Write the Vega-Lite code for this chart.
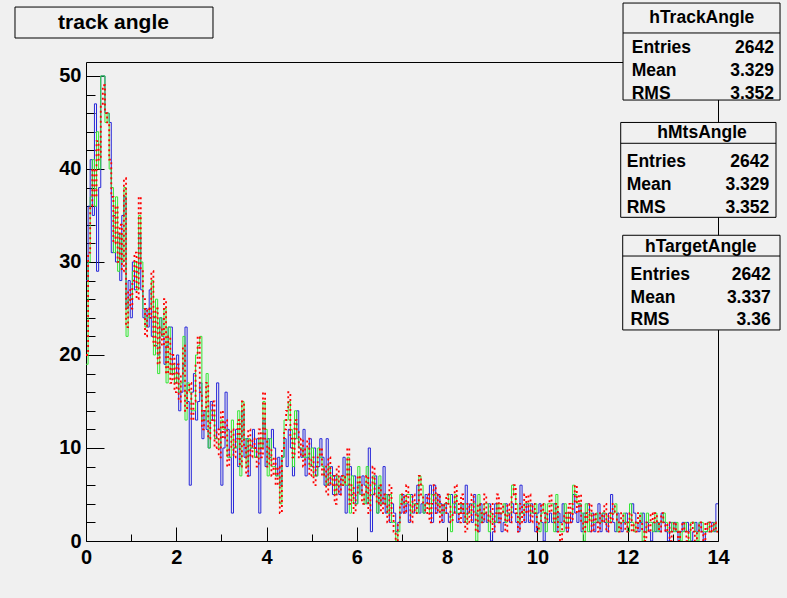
{
"$schema": "https://vega.github.io/schema/vega-lite/v6.json",
"width": 632, "height": 479,
"autosize": "none",
"padding": {"left": 86, "top": 62, "right": 69, "bottom": 57},
"background": "#f0f0f0",
"config": {"view": {"stroke": "#000000", "strokeWidth": 1, "fill": "#f0f0f0"}, "font": "Liberation Sans", "axis": {"labelOverlap": false, "labelBound": false, "labelFlush": false}},
"datasets": {
"one": [{}],
"h": [
{"x":0,"t":28,"m":19,"g":20},{"x":0.047,"t":36,"m":30,"g":31},{"x":0.093,"t":41,"m":37,"g":36},{"x":0.14,"t":35,"m":41,"g":40},{"x":0.187,"t":47,"m":36,"g":37},{"x":0.233,"t":29,"m":44,"g":43},{"x":0.28,"t":38,"m":40,"g":41},{"x":0.327,"t":50,"m":50,"g":47},{"x":0.373,"t":50,"m":50,"g":49},{"x":0.42,"t":46,"m":45,"g":46},
{"x":0.467,"t":46,"m":46,"g":45},{"x":0.513,"t":45,"m":40,"g":41},{"x":0.56,"t":31,"m":38,"g":37},{"x":0.607,"t":35,"m":31,"g":32},{"x":0.653,"t":30,"m":37,"g":36},{"x":0.7,"t":33,"m":29,"g":30},{"x":0.747,"t":28,"m":33,"g":34},{"x":0.793,"t":35,"m":30,"g":29},{"x":0.84,"t":37,"m":38,"g":39},{"x":0.887,"t":25,"m":22,"g":23},
{"x":0.933,"t":28,"m":26,"g":27},{"x":0.98,"t":24,"m":26,"g":25},{"x":1.027,"t":30,"m":29,"g":28},{"x":1.073,"t":27,"m":30,"g":31},{"x":1.12,"t":29,"m":27,"g":26},{"x":1.167,"t":33,"m":35,"g":37},{"x":1.213,"t":27,"m":30,"g":29},{"x":1.26,"t":24,"m":25,"g":26},{"x":1.307,"t":25,"m":23,"g":22},{"x":1.353,"t":23,"m":24,"g":25},
{"x":1.4,"t":27,"m":25,"g":24},{"x":1.447,"t":22,"m":28,"g":29},{"x":1.493,"t":24,"m":20,"g":21},{"x":1.54,"t":21,"m":26,"g":25},{"x":1.587,"t":20,"m":18,"g":19},{"x":1.633,"t":24,"m":24,"g":23},{"x":1.68,"t":22,"m":22,"g":21},{"x":1.727,"t":19,"m":25,"g":26},{"x":1.773,"t":21,"m":17,"g":18},{"x":1.82,"t":23,"m":23,"g":22},
{"x":1.867,"t":23,"m":18,"g":17},{"x":1.913,"t":18,"m":19,"g":20},{"x":1.96,"t":17,"m":17,"g":16},{"x":2.007,"t":20,"m":18,"g":19},{"x":2.053,"t":14,"m":16,"g":15},{"x":2.1,"t":16,"m":17,"g":18},{"x":2.147,"t":19,"m":22,"g":21},{"x":2.193,"t":23,"m":13,"g":14},{"x":2.24,"t":15,"m":17,"g":16},{"x":2.287,"t":6,"m":16,"g":17},
{"x":2.333,"t":16,"m":14,"g":13},{"x":2.38,"t":18,"m":14,"g":15},{"x":2.427,"t":13,"m":20,"g":19},{"x":2.473,"t":15,"m":21,"g":22},{"x":2.52,"t":17,"m":22,"g":16},{"x":2.567,"t":11,"m":13,"g":12},{"x":2.613,"t":14,"m":13,"g":14},{"x":2.66,"t":12,"m":18,"g":17},{"x":2.707,"t":10,"m":10,"g":11},{"x":2.753,"t":15,"m":14,"g":13},
{"x":2.8,"t":13,"m":14,"g":15},{"x":2.847,"t":11,"m":11,"g":10},{"x":2.893,"t":17,"m":11,"g":12},{"x":2.94,"t":12,"m":10,"g":9},{"x":2.987,"t":6,"m":13,"g":14},{"x":3.033,"t":10,"m":12,"g":11},{"x":3.08,"t":16,"m":12,"g":13},{"x":3.127,"t":12,"m":9,"g":8},{"x":3.173,"t":9,"m":9,"g":10},{"x":3.22,"t":3,"m":13,"g":12},
{"x":3.267,"t":10,"m":10,"g":9},{"x":3.313,"t":12,"m":10,"g":11},{"x":3.36,"t":8,"m":14,"g":13},{"x":3.407,"t":11,"m":7,"g":8},{"x":3.453,"t":14,"m":15,"g":15},{"x":3.5,"t":9,"m":11,"g":10},{"x":3.547,"t":11,"m":8,"g":7},{"x":3.593,"t":7,"m":11,"g":12},{"x":3.64,"t":10,"m":10,"g":9},{"x":3.687,"t":12,"m":10,"g":11},
{"x":3.733,"t":9,"m":9,"g":10},{"x":3.78,"t":11,"m":9,"g":8},{"x":3.827,"t":3,"m":11,"g":12},{"x":3.873,"t":10,"m":10,"g":9},{"x":3.92,"t":13,"m":15,"g":16},{"x":3.967,"t":8,"m":12,"g":11},{"x":4.013,"t":11,"m":7,"g":8},{"x":4.06,"t":9,"m":11,"g":10},{"x":4.107,"t":12,"m":8,"g":7},{"x":4.153,"t":10,"m":8,"g":9},
{"x":4.2,"t":7,"m":7,"g":6},{"x":4.247,"t":9,"m":7,"g":8},{"x":4.293,"t":6,"m":4,"g":3},{"x":4.34,"t":9,"m":9,"g":10},{"x":4.387,"t":11,"m":13,"g":12},{"x":4.433,"t":8,"m":13,"g":14},{"x":4.48,"t":12,"m":15,"g":16},{"x":4.527,"t":10,"m":12,"g":11},{"x":4.573,"t":7,"m":8,"g":9},{"x":4.62,"t":11,"m":14,"g":13},
{"x":4.667,"t":14,"m":11,"g":12},{"x":4.713,"t":10,"m":10,"g":9},{"x":4.76,"t":9,"m":10,"g":11},{"x":4.807,"t":12,"m":9,"g":8},{"x":4.853,"t":7,"m":9,"g":10},{"x":4.9,"t":9,"m":10,"g":11},{"x":4.947,"t":11,"m":8,"g":7},{"x":4.993,"t":8,"m":10,"g":9},{"x":5.04,"t":10,"m":7,"g":6},{"x":5.087,"t":7,"m":7,"g":8},
{"x":5.133,"t":8,"m":10,"g":9},{"x":5.18,"t":11,"m":9,"g":10},{"x":5.227,"t":9,"m":8,"g":7},{"x":5.273,"t":6,"m":7,"g":8},{"x":5.32,"t":11,"m":6,"g":5},{"x":5.367,"t":6,"m":8,"g":9},{"x":5.413,"t":8,"m":7,"g":6},{"x":5.46,"t":5,"m":6,"g":7},{"x":5.507,"t":7,"m":5,"g":4},{"x":5.553,"t":6,"m":7,"g":8},
{"x":5.6,"t":5,"m":6,"g":5},{"x":5.647,"t":7,"m":6,"g":7},{"x":5.693,"t":9,"m":7,"g":6},{"x":5.74,"t":3,"m":6,"g":7},{"x":5.787,"t":6,"m":9,"g":10},{"x":5.833,"t":8,"m":3,"g":4},{"x":5.88,"t":5,"m":7,"g":6},{"x":5.927,"t":7,"m":4,"g":3},{"x":5.973,"t":4,"m":4,"g":5},{"x":6.02,"t":6,"m":8,"g":7},
{"x":6.067,"t":5,"m":5,"g":6},{"x":6.113,"t":7,"m":5,"g":4},{"x":6.16,"t":6,"m":4,"g":5},{"x":6.207,"t":4,"m":8,"g":7},{"x":6.253,"t":10,"m":4,"g":3},{"x":6.3,"t":1,"m":5,"g":6},{"x":6.347,"t":5,"m":7,"g":8},{"x":6.393,"t":7,"m":6,"g":5},{"x":6.44,"t":3,"m":3,"g":4},{"x":6.487,"t":6,"m":7,"g":6},
{"x":6.533,"t":4,"m":4,"g":3},{"x":6.58,"t":8,"m":4,"g":5},{"x":6.627,"t":3,"m":5,"g":4},{"x":6.673,"t":5,"m":3,"g":2},{"x":6.72,"t":2,"m":5,"g":6},{"x":6.767,"t":4,"m":2,"g":3},{"x":6.813,"t":3,"m":2,"g":1},{"x":6.86,"t":1,"m":0,"g":0},{"x":6.907,"t":2,"m":1,"g":2},{"x":6.953,"t":3,"m":5,"g":4},
{"x":7,"t":5,"m":4,"g":5},{"x":7.047,"t":3,"m":4,"g":3},{"x":7.093,"t":4,"m":5,"g":6},{"x":7.14,"t":2,"m":5,"g":4},{"x":7.187,"t":5,"m":3,"g":2},{"x":7.233,"t":3,"m":4,"g":5},{"x":7.28,"t":4,"m":4,"g":3},{"x":7.327,"t":6,"m":3,"g":4},{"x":7.373,"t":3,"m":7,"g":7},{"x":7.42,"t":4,"m":6,"g":5},
{"x":7.467,"t":3,"m":3,"g":4},{"x":7.513,"t":5,"m":4,"g":3},{"x":7.56,"t":4,"m":4,"g":5},{"x":7.607,"t":6,"m":3,"g":2},{"x":7.653,"t":2,"m":5,"g":4},{"x":7.7,"t":6,"m":5,"g":6},{"x":7.747,"t":3,"m":4,"g":3},{"x":7.793,"t":5,"m":4,"g":5},{"x":7.84,"t":4,"m":3,"g":2},{"x":7.887,"t":2,"m":3,"g":4},
{"x":7.933,"t":4,"m":4,"g":3},{"x":7.98,"t":3,"m":4,"g":5},{"x":8.027,"t":2,"m":5,"g":4},{"x":8.073,"t":5,"m":1,"g":2},{"x":8.12,"t":3,"m":4,"g":3},{"x":8.167,"t":4,"m":5,"g":6},{"x":8.213,"t":2,"m":3,"g":4},{"x":8.26,"t":3,"m":3,"g":2},{"x":8.307,"t":4,"m":4,"g":5},{"x":8.353,"t":2,"m":4,"g":3},
{"x":8.4,"t":6,"m":2,"g":1},{"x":8.447,"t":3,"m":3,"g":4},{"x":8.493,"t":4,"m":3,"g":2},{"x":8.54,"t":2,"m":4,"g":5},{"x":8.587,"t":5,"m":4,"g":3},{"x":8.633,"t":3,"m":0,"g":1},{"x":8.68,"t":1,"m":5,"g":4},{"x":8.727,"t":4,"m":2,"g":3},{"x":8.773,"t":2,"m":3,"g":2},{"x":8.82,"t":3,"m":4,"g":5},
{"x":8.867,"t":2,"m":4,"g":3},{"x":8.913,"t":4,"m":1,"g":2},{"x":8.96,"t":0,"m":3,"g":4},{"x":9.007,"t":1,"m":2,"g":1},{"x":9.053,"t":4,"m":2,"g":3},{"x":9.1,"t":2,"m":4,"g":5},{"x":9.147,"t":3,"m":3,"g":2},{"x":9.193,"t":1,"m":3,"g":4},{"x":9.24,"t":2,"m":4,"g":3},{"x":9.287,"t":4,"m":2,"g":1},
{"x":9.333,"t":3,"m":3,"g":4},{"x":9.38,"t":2,"m":3,"g":2},{"x":9.427,"t":4,"m":6,"g":5},{"x":9.473,"t":3,"m":5,"g":6},{"x":9.52,"t":2,"m":4,"g":3},{"x":9.567,"t":1,"m":2,"g":1},{"x":9.613,"t":6,"m":3,"g":4},{"x":9.66,"t":3,"m":3,"g":2},{"x":9.707,"t":2,"m":4,"g":5},{"x":9.753,"t":4,"m":4,"g":3},
{"x":9.8,"t":2,"m":4,"g":5},{"x":9.847,"t":4,"m":3,"g":2},{"x":9.893,"t":3,"m":3,"g":4},{"x":9.94,"t":1,"m":4,"g":3},{"x":9.987,"t":3,"m":2,"g":1},{"x":10.033,"t":4,"m":1,"g":2},{"x":10.08,"t":2,"m":3,"g":4},{"x":10.127,"t":0,"m":4,"g":3},{"x":10.173,"t":3,"m":1,"g":2},{"x":10.22,"t":2,"m":4,"g":3},
{"x":10.267,"t":3,"m":4,"g":5},{"x":10.313,"t":2,"m":4,"g":3},{"x":10.36,"t":4,"m":1,"g":2},{"x":10.407,"t":1,"m":5,"g":4},{"x":10.453,"t":3,"m":2,"g":1},{"x":10.5,"t":2,"m":1,"g":0},{"x":10.547,"t":4,"m":1,"g":2},{"x":10.593,"t":2,"m":4,"g":3},{"x":10.64,"t":1,"m":2,"g":1},{"x":10.687,"t":3,"m":3,"g":4},
{"x":10.733,"t":2,"m":3,"g":2},{"x":10.78,"t":5,"m":6,"g":4},{"x":10.827,"t":3,"m":5,"g":6},{"x":10.873,"t":2,"m":4,"g":3},{"x":10.92,"t":4,"m":4,"g":5},{"x":10.967,"t":1,"m":3,"g":2},{"x":11.013,"t":3,"m":0,"g":1},{"x":11.06,"t":2,"m":4,"g":3},{"x":11.107,"t":4,"m":1,"g":2},{"x":11.153,"t":1,"m":3,"g":4},
{"x":11.2,"t":3,"m":2,"g":1},{"x":11.247,"t":1,"m":2,"g":3},{"x":11.293,"t":2,"m":3,"g":2},{"x":11.34,"t":4,"m":2,"g":1},{"x":11.387,"t":1,"m":2,"g":3},{"x":11.433,"t":3,"m":3,"g":2},{"x":11.48,"t":2,"m":3,"g":4},{"x":11.527,"t":1,"m":2,"g":1},{"x":11.573,"t":3,"m":2,"g":3},{"x":11.62,"t":5,"m":3,"g":2},
{"x":11.667,"t":2,"m":3,"g":4},{"x":11.713,"t":1,"m":4,"g":3},{"x":11.76,"t":3,"m":1,"g":2},{"x":11.807,"t":2,"m":2,"g":1},{"x":11.853,"t":1,"m":2,"g":3},{"x":11.9,"t":2,"m":3,"g":2},{"x":11.947,"t":3,"m":2,"g":1},{"x":11.993,"t":1,"m":1,"g":2},{"x":12.04,"t":2,"m":4,"g":3},{"x":12.087,"t":4,"m":2,"g":1},
{"x":12.133,"t":3,"m":1,"g":2},{"x":12.18,"t":2,"m":2,"g":1},{"x":12.227,"t":1,"m":2,"g":3},{"x":12.273,"t":2,"m":3,"g":2},{"x":12.32,"t":3,"m":0,"g":1},{"x":12.367,"t":1,"m":1,"g":0},{"x":12.413,"t":2,"m":3,"g":2},{"x":12.46,"t":1,"m":2,"g":1},{"x":12.507,"t":0,"m":2,"g":3},{"x":12.553,"t":2,"m":1,"g":2},
{"x":12.6,"t":1,"m":3,"g":3},{"x":12.647,"t":2,"m":1,"g":2},{"x":12.693,"t":1,"m":2,"g":1},{"x":12.74,"t":3,"m":2,"g":3},{"x":12.787,"t":2,"m":3,"g":2},{"x":12.833,"t":1,"m":2,"g":1},{"x":12.88,"t":0,"m":1,"g":2},{"x":12.927,"t":2,"m":1,"g":0},{"x":12.973,"t":1,"m":2,"g":1},{"x":13.02,"t":2,"m":1,"g":2},
{"x":13.067,"t":1,"m":2,"g":1},{"x":13.113,"t":0,"m":1,"g":0},{"x":13.16,"t":1,"m":0,"g":1},{"x":13.207,"t":2,"m":1,"g":2},{"x":13.253,"t":1,"m":2,"g":1},{"x":13.3,"t":2,"m":1,"g":0},{"x":13.347,"t":1,"m":0,"g":1},{"x":13.393,"t":0,"m":2,"g":2},{"x":13.44,"t":1,"m":2,"g":1},{"x":13.487,"t":2,"m":1,"g":0},
{"x":13.533,"t":1,"m":0,"g":1},{"x":13.58,"t":2,"m":2,"g":2},{"x":13.627,"t":1,"m":2,"g":1},{"x":13.673,"t":0,"m":1,"g":0},{"x":13.72,"t":1,"m":1,"g":2},{"x":13.767,"t":2,"m":2,"g":1},{"x":13.813,"t":1,"m":1,"g":2},{"x":13.86,"t":2,"m":1,"g":1},{"x":13.907,"t":1,"m":2,"g":2},{"x":13.953,"t":4,"m":1,"g":1},
{"x":14,"t":4,"m":1,"g":1}
]
},
"layer": [
{"data": {"name": "h"},
 "mark": {"type": "line", "interpolate": "step-after", "color": "#2626d8", "strokeWidth": 1, "clip": true},
 "encoding": {
  "x": {"field": "x", "type": "quantitative", "scale": {"domain": [0, 14], "nice": false, "zero": false},
   "axis": {"title": null, "domain": false, "grid": false, "tickCount": 200, "format": "d", "values": [0,0.5,1,1.5,2,2.5,3,3.5,4,4.5,5,5.5,6,6.5,7,7.5,8,8.5,9,9.5,10,10.5,11,11.5,12,12.5,13,13.5,14],
    "tickSize": {"condition": {"test": "datum.value % 2 === 0", "value": -14}, "value": -7},
    "tickColor": "#000000", "tickWidth": 1,
    "labelExpr": "datum.value % 2 === 0 ? datum.label : ''",
    "labelFontSize": {"condition": {"test": "datum.value % 2 === 0", "value": 20}, "value": 1},
    "labelFont": "Liberation Sans", "labelFontWeight": "bold", "labelColor": "#000000",
    "labelPadding": 20, "labelFlush": false, "labelOverlap": false, "labelBound": false}},
  "y": {"field": "t", "type": "quantitative", "scale": {"domain": [0, 51.5], "nice": false, "zero": false},
   "axis": {"title": null, "domain": false, "grid": false, "tickCount": 200, "format": "d", "values": [0,2,4,6,8,10,12,14,16,18,20,22,24,26,28,30,32,34,36,38,40,42,44,46,48,50],
    "tickSize": {"condition": {"test": "datum.value % 10 === 0", "value": -18}, "value": -9},
    "tickColor": "#000000", "tickWidth": 1,
    "labelExpr": "datum.value % 10 === 0 ? datum.label : ''",
    "labelFontSize": {"condition": {"test": "datum.value % 10 === 0", "value": 20}, "value": 1},
    "labelFont": "Liberation Sans", "labelFontWeight": "bold", "labelColor": "#000000",
    "labelPadding": 23, "labelFlush": false, "labelOverlap": false, "labelBound": false}}
 }},
{"data": {"name": "h"},
 "mark": {"type": "line", "interpolate": "step-after", "color": "#33e633", "strokeWidth": 1, "clip": true},
 "encoding": {
  "x": {"field": "x", "type": "quantitative", "scale": {"domain": [0, 14], "nice": false, "zero": false}},
  "y": {"field": "m", "type": "quantitative", "scale": {"domain": [0, 51.5], "nice": false, "zero": false}}
 }},
{"data": {"name": "h"},
 "mark": {"type": "line", "interpolate": "step-after", "color": "#ff0000", "strokeWidth": 1.8, "strokeDash": [2, 3], "clip": true},
 "encoding": {
  "x": {"field": "x", "type": "quantitative", "scale": {"domain": [0, 14], "nice": false, "zero": false}},
  "y": {"field": "g", "type": "quantitative", "scale": {"domain": [0, 51.5], "nice": false, "zero": false}}
 }},

{"data": {"name": "one"}, "mark": {"type": "rect", "fill": "#000000", "xOffset": 2, "yOffset": 2, "clip": false},
 "encoding": {"x": {"datum": -1.573, "scale": {"domain": [0, 14], "nice": false, "zero": false}}, "x2": {"datum": 2.813}, "y": {"datum": 57.41, "scale": {"domain": [0, 51.5], "nice": false, "zero": false}}, "y2": {"datum": 54.08}}},
{"data": {"name": "one"}, "mark": {"type": "rect", "fill": "#f0f0f0", "stroke": "#000000", "strokeWidth": 1, "clip": false},
 "encoding": {"x": {"datum": -1.573, "scale": {"domain": [0, 14], "nice": false, "zero": false}}, "x2": {"datum": 2.813}, "y": {"datum": 57.41, "scale": {"domain": [0, 51.5], "nice": false, "zero": false}}, "y2": {"datum": 54.08}}},
{"data": {"name": "one"}, "mark": {"type": "text", "text": "track angle", "font": "Liberation Sans", "fontWeight": "bold", "fontSize": 21, "align": "center", "baseline": "alphabetic", "color": "#000000", "clip": false},
 "encoding": {"x": {"datum": 0.609, "scale": {"domain": [0, 14], "nice": false, "zero": false}}, "y": {"datum": 55.10, "scale": {"domain": [0, 51.5], "nice": false, "zero": false}}}},

{"data": {"name": "one"}, "mark": {"type": "rect", "fill": "#000000", "xOffset": 2, "yOffset": 2, "clip": false},
 "encoding": {"x": {"datum": 11.896, "scale": {"domain": [0, 14], "nice": false, "zero": false}}, "x2": {"datum": 15.374}, "y": {"datum": 57.84, "scale": {"domain": [0, 51.5], "nice": false, "zero": false}}, "y2": {"datum": 47.41}}},
{"data": {"name": "one"}, "mark": {"type": "rect", "fill": "#f0f0f0", "stroke": "#000000", "strokeWidth": 1, "clip": false},
 "encoding": {"x": {"datum": 11.896, "scale": {"domain": [0, 14], "nice": false, "zero": false}}, "x2": {"datum": 15.374}, "y": {"datum": 57.84, "scale": {"domain": [0, 51.5], "nice": false, "zero": false}}, "y2": {"datum": 47.41}}},
{"data": {"name": "one"}, "mark": {"type": "rule", "color": "#000000", "strokeWidth": 1, "clip": false},
 "encoding": {"x": {"datum": 11.896, "scale": {"domain": [0, 14], "nice": false, "zero": false}}, "x2": {"datum": 15.374}, "y": {"datum": 54.62, "scale": {"domain": [0, 51.5], "nice": false, "zero": false}}}},
{"data": {"name": "one"}, "mark": {"type": "text", "text": "hTrackAngle", "font": "Liberation Sans", "fontWeight": "bold", "fontSize": 17.5, "align": "center", "baseline": "alphabetic", "color": "#000000", "clip": false},
 "encoding": {"x": {"datum": 13.639, "scale": {"domain": [0, 14], "nice": false, "zero": false}}, "y": {"datum": 55.64, "scale": {"domain": [0, 51.5], "nice": false, "zero": false}}}},
{"data": {"name": "one"}, "mark": {"type": "text", "text": ["Entries", "Mean", "RMS"], "lineHeight": 22.8, "font": "Liberation Sans", "fontWeight": "bold", "fontSize": 17.5, "align": "left", "baseline": "alphabetic", "color": "#000000", "clip": false},
 "encoding": {"x": {"datum": 12.089, "scale": {"domain": [0, 14], "nice": false, "zero": false}}, "y": {"datum": 52.47, "scale": {"domain": [0, 51.5], "nice": false, "zero": false}}}},
{"data": {"name": "one"}, "mark": {"type": "text", "text": ["2642", "3.329", "3.352"], "lineHeight": 22.8, "font": "Liberation Sans", "fontWeight": "bold", "fontSize": 17.5, "align": "right", "baseline": "alphabetic", "color": "#000000", "clip": false},
 "encoding": {"x": {"datum": 15.241, "scale": {"domain": [0, 14], "nice": false, "zero": false}}, "y": {"datum": 52.47, "scale": {"domain": [0, 51.5], "nice": false, "zero": false}}}},

{"data": {"name": "one"}, "mark": {"type": "rect", "fill": "#000000", "xOffset": 2, "yOffset": 2, "clip": false},
 "encoding": {"x": {"datum": 11.845, "scale": {"domain": [0, 14], "nice": false, "zero": false}}, "x2": {"datum": 15.285}, "y": {"datum": 45.00, "scale": {"domain": [0, 51.5], "nice": false, "zero": false}}, "y2": {"datum": 34.80}}},
{"data": {"name": "one"}, "mark": {"type": "rect", "fill": "#f0f0f0", "stroke": "#000000", "strokeWidth": 1, "clip": false},
 "encoding": {"x": {"datum": 11.845, "scale": {"domain": [0, 14], "nice": false, "zero": false}}, "x2": {"datum": 15.285}, "y": {"datum": 45.00, "scale": {"domain": [0, 51.5], "nice": false, "zero": false}}, "y2": {"datum": 34.80}}},
{"data": {"name": "one"}, "mark": {"type": "rule", "color": "#000000", "strokeWidth": 1, "clip": false},
 "encoding": {"x": {"datum": 11.845, "scale": {"domain": [0, 14], "nice": false, "zero": false}}, "x2": {"datum": 15.285}, "y": {"datum": 42.76, "scale": {"domain": [0, 51.5], "nice": false, "zero": false}}}},
{"data": {"name": "one"}, "mark": {"type": "text", "text": "hMtsAngle", "font": "Liberation Sans", "fontWeight": "bold", "fontSize": 17.5, "align": "center", "baseline": "alphabetic", "color": "#000000", "clip": false},
 "encoding": {"x": {"datum": 13.646, "scale": {"domain": [0, 14], "nice": false, "zero": false}}, "y": {"datum": 43.38, "scale": {"domain": [0, 51.5], "nice": false, "zero": false}}}},
{"data": {"name": "one"}, "mark": {"type": "text", "text": ["Entries", "Mean", "RMS"], "lineHeight": 23.1, "font": "Liberation Sans", "fontWeight": "bold", "fontSize": 17.5, "align": "left", "baseline": "alphabetic", "color": "#000000", "clip": false},
 "encoding": {"x": {"datum": 11.978, "scale": {"domain": [0, 14], "nice": false, "zero": false}}, "y": {"datum": 40.24, "scale": {"domain": [0, 51.5], "nice": false, "zero": false}}}},
{"data": {"name": "one"}, "mark": {"type": "text", "text": ["2642", "3.329", "3.352"], "lineHeight": 23.1, "font": "Liberation Sans", "fontWeight": "bold", "fontSize": 17.5, "align": "right", "baseline": "alphabetic", "color": "#000000", "clip": false},
 "encoding": {"x": {"datum": 15.136, "scale": {"domain": [0, 14], "nice": false, "zero": false}}, "y": {"datum": 40.24, "scale": {"domain": [0, 51.5], "nice": false, "zero": false}}}},

{"data": {"name": "one"}, "mark": {"type": "rect", "fill": "#000000", "xOffset": 2, "yOffset": 2, "clip": false},
 "encoding": {"x": {"datum": 11.889, "scale": {"domain": [0, 14], "nice": false, "zero": false}}, "x2": {"datum": 15.374}, "y": {"datum": 32.87, "scale": {"domain": [0, 51.5], "nice": false, "zero": false}}, "y2": {"datum": 22.69}}},
{"data": {"name": "one"}, "mark": {"type": "rect", "fill": "#f0f0f0", "stroke": "#000000", "strokeWidth": 1, "clip": false},
 "encoding": {"x": {"datum": 11.889, "scale": {"domain": [0, 14], "nice": false, "zero": false}}, "x2": {"datum": 15.374}, "y": {"datum": 32.87, "scale": {"domain": [0, 51.5], "nice": false, "zero": false}}, "y2": {"datum": 22.69}}},
{"data": {"name": "one"}, "mark": {"type": "rule", "color": "#000000", "strokeWidth": 1, "clip": false},
 "encoding": {"x": {"datum": 11.889, "scale": {"domain": [0, 14], "nice": false, "zero": false}}, "x2": {"datum": 15.374}, "y": {"datum": 30.64, "scale": {"domain": [0, 51.5], "nice": false, "zero": false}}}},
{"data": {"name": "one"}, "mark": {"type": "text", "text": "hTargetAngle", "font": "Liberation Sans", "fontWeight": "bold", "fontSize": 17.5, "align": "center", "baseline": "alphabetic", "color": "#000000", "clip": false},
 "encoding": {"x": {"datum": 13.617, "scale": {"domain": [0, 14], "nice": false, "zero": false}}, "y": {"datum": 31.07, "scale": {"domain": [0, 51.5], "nice": false, "zero": false}}}},
{"data": {"name": "one"}, "mark": {"type": "text", "text": ["Entries", "Mean", "RMS"], "lineHeight": 22.5, "font": "Liberation Sans", "fontWeight": "bold", "fontSize": 17.5, "align": "left", "baseline": "alphabetic", "color": "#000000", "clip": false},
 "encoding": {"x": {"datum": 12.064, "scale": {"domain": [0, 14], "nice": false, "zero": false}}, "y": {"datum": 28.06, "scale": {"domain": [0, 51.5], "nice": false, "zero": false}}}},
{"data": {"name": "one"}, "mark": {"type": "text", "text": ["2642", "3.337", "3.36"], "lineHeight": 22.5, "font": "Liberation Sans", "fontWeight": "bold", "fontSize": 17.5, "align": "right", "baseline": "alphabetic", "color": "#000000", "clip": false},
 "encoding": {"x": {"datum": 15.167, "scale": {"domain": [0, 14], "nice": false, "zero": false}}, "y": {"datum": 28.06, "scale": {"domain": [0, 51.5], "nice": false, "zero": false}}}}
]
}
